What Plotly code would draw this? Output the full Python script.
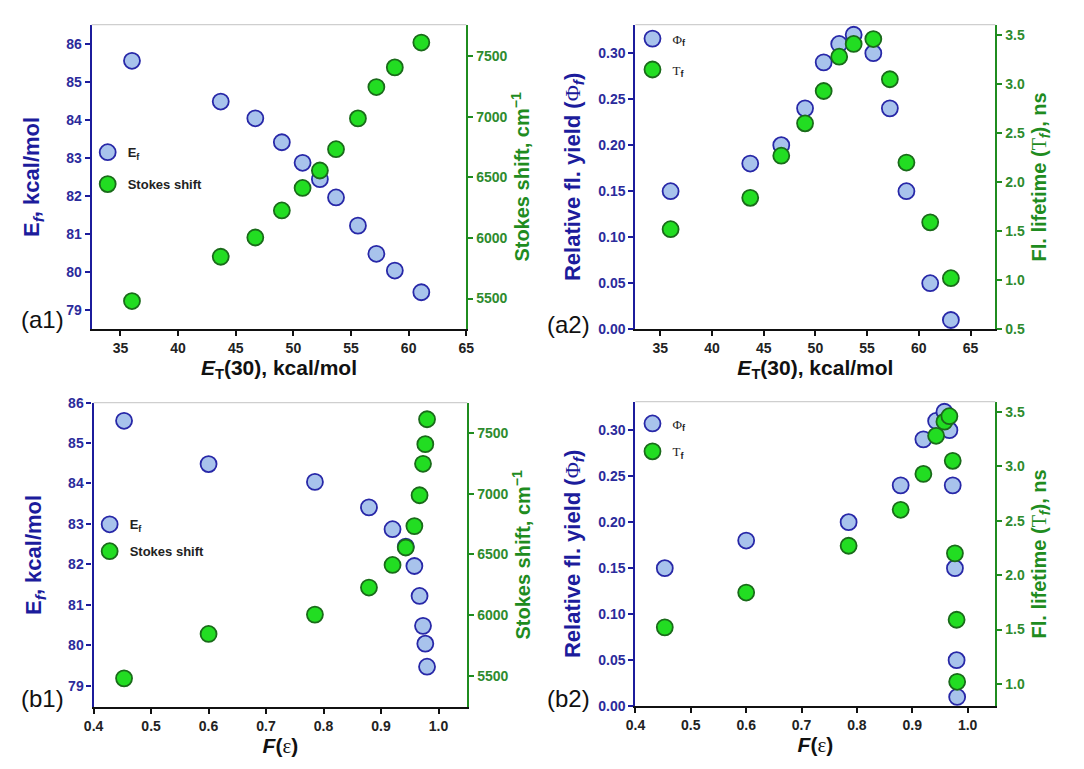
import plotly.graph_objects as go

# ---------------- data ----------------
ET30 = [36.0, 43.7, 46.7, 49.0, 50.8, 52.3, 53.7, 55.6, 57.2, 58.8, 61.1, 63.1]
F_eps = [0.453, 0.600, 0.785, 0.879, 0.920, 0.943, 0.958, 0.967, 0.973, 0.977, 0.980, 0.981]
E_f = [85.55, 84.48, 84.04, 83.41, 82.87, 82.44, 81.96, 81.22, 80.48, 80.04, 79.47]
stokes = [5479, 5845, 6004, 6227, 6413, 6557, 6733, 6987, 7246, 7408, 7613]
phi_f = [0.15, 0.18, 0.20, 0.24, 0.29, 0.31, 0.32, 0.30, 0.24, 0.15, 0.05, 0.01]
tau_f = [1.52, 1.84, 2.27, 2.60, 2.93, 3.28, 3.41, 3.46, 3.05, 2.20, 1.59, 1.02]

et_ticks = [35, 40, 45, 50, 55, 60, 65]
f_ticks = [0.4, 0.5, 0.6, 0.7, 0.8, 0.9, 1.0]
ef_ticks = [79, 80, 81, 82, 83, 84, 85, 86]
stokes_ticks = [5500, 6000, 6500, 7000, 7500]
phi_ticks = [0.00, 0.05, 0.10, 0.15, 0.20, 0.25, 0.30]
tau_ticks_a = [0.5, 1.0, 1.5, 2.0, 2.5, 3.0, 3.5]
tau_ticks_b = [1.0, 1.5, 2.0, 2.5, 3.0, 3.5]

# ---------------- style ----------------
W, H = 1084, 769
FONT = "Arial, Liberation Sans, sans-serif"
BLUE_LINE = "#1c1c9c"
BLUE_TXT = "#2b2b9b"
GREEN_LINE = "#1f8c1f"
GREEN_TXT = "#2e8b2e"
BLUE_FILL = "#a8c3ec"
BLUE_EDGE = "#2828a8"
GREEN_FILL = "#22dd22"
GREEN_EDGE = "#1a6b1a"
MS = 16


def px_x(p):
    return p / W


def px_y(p):
    return 1 - p / H


blue_marker = dict(size=MS, color=BLUE_FILL, line=dict(color=BLUE_EDGE, width=1.8))
green_marker = dict(size=MS, color=GREEN_FILL, line=dict(color=GREEN_EDGE, width=1.8))

SERIF = "font-family:'Liberation Serif',Times,serif;font-weight:normal"
PHI = f"<span style=\"{SERIF}\">Φ</span>"
TAU = f"<span style=\"{SERIF}\">T</span>"

fig = go.Figure()

# panel a1
fig.add_trace(go.Scatter(x=ET30[:11], y=E_f, mode="markers", marker=blue_marker,
                         name="E<sub>f</sub>", xaxis="x", yaxis="y",
                         legend="legend", legendgroup="a1"))
fig.add_trace(go.Scatter(x=ET30[:11], y=stokes, mode="markers", marker=green_marker,
                         name="Stokes shift", xaxis="x", yaxis="y2",
                         legend="legend", legendgroup="a1b"))
# panel a2
fig.add_trace(go.Scatter(x=ET30, y=phi_f, mode="markers", marker=blue_marker,
                         name=PHI + "<sub>f</sub>", xaxis="x2", yaxis="y3",
                         legend="legend2", legendgroup="a2"))
fig.add_trace(go.Scatter(x=ET30, y=tau_f, mode="markers", marker=green_marker,
                         name=TAU + "<sub>f</sub>", xaxis="x2", yaxis="y4",
                         legend="legend2", legendgroup="a2b"))
# panel b1
fig.add_trace(go.Scatter(x=F_eps[:11], y=E_f, mode="markers", marker=blue_marker,
                         name="E<sub>f</sub>", xaxis="x3", yaxis="y5",
                         legend="legend3", legendgroup="b1"))
fig.add_trace(go.Scatter(x=F_eps[:11], y=stokes, mode="markers", marker=green_marker,
                         name="Stokes shift", xaxis="x3", yaxis="y6",
                         legend="legend3", legendgroup="b1b"))
# panel b2
fig.add_trace(go.Scatter(x=F_eps, y=phi_f, mode="markers", marker=blue_marker,
                         name=PHI + "<sub>f</sub>", xaxis="x4", yaxis="y7",
                         legend="legend4", legendgroup="b2"))
fig.add_trace(go.Scatter(x=F_eps, y=tau_f, mode="markers", marker=green_marker,
                         name=TAU + "<sub>f</sub>", xaxis="x4", yaxis="y8",
                         legend="legend4", legendgroup="b2b"))

tick_font_x = dict(family=FONT, size=14, color="#222222", weight="bold")
tick_font_b = dict(family=FONT, size=14, color=BLUE_TXT, weight="bold")
tick_font_g = dict(family=FONT, size=14, color=GREEN_TXT, weight="bold")


def xaxis(domain, rng, ticks, fmt, title, anchor):
    return dict(domain=domain, range=rng, tickvals=ticks, tickformat=fmt,
                showline=True, linecolor="#111111", linewidth=2.2,
                ticks="outside", ticklen=5, tickwidth=1.8, tickcolor="#111111",
                tickfont=tick_font_x, showgrid=False, zeroline=False, anchor=anchor,
                title=dict(text=title, font=dict(family=FONT, size=21, color="#111111",
                                                 weight="bold"), standoff=5))


def yleft(domain, rng, ticks, fmt, title, anchor, standoff):
    return dict(domain=domain, range=rng, tickvals=ticks, tickformat=fmt,
                showline=True, linecolor=BLUE_LINE, linewidth=2.2,
                ticks="outside", ticklen=5, tickwidth=1.8, tickcolor=BLUE_LINE,
                tickfont=tick_font_b, showgrid=False, zeroline=False, anchor=anchor,
                title=dict(text=title, font=dict(family=FONT, size=22, color=BLUE_LINE,
                                                 weight="bold"), standoff=standoff))


def yright(rng, ticks, fmt, title, anchor, overlay, standoff):
    return dict(range=rng, tickvals=ticks, tickformat=fmt, side="right",
                overlaying=overlay, anchor=anchor,
                showline=True, linecolor=GREEN_LINE, linewidth=2.2,
                ticks="outside", ticklen=5, tickwidth=1.8, tickcolor=GREEN_LINE,
                tickfont=tick_font_g, showgrid=False, zeroline=False,
                title=dict(text=title, font=dict(family=FONT, size=20, color=GREEN_LINE,
                                                 weight="bold"), standoff=standoff))


ET_TITLE = "<i>E</i><sub>T</sub>(30), kcal/mol"
F_TITLE = "<i>F</i>(<span style=\"" + SERIF + "\">ε</span>)"
EF_TITLE = "E<sub><i>f</i></sub>, kcal/mol"
ST_TITLE = "Stokes shift, cm<sup>−1</sup>"
PHI_TITLE = "Relative fl. yield (" + PHI + "<sub><i>f</i></sub>)"
TAU_TITLE = "Fl. lifetime (" + TAU + "<sub><i>f</i></sub>), ns"

dom_a1x = [px_x(83), px_x(464)]
dom_a2x = [px_x(636), px_x(1002)]
dom_b1x = [px_x(85), px_x(465)]
dom_b2x = [px_x(636), px_x(1002)]
dom_ay = [px_y(328), px_y(17)]
dom_b1y = [px_y(714), px_y(403)]
dom_b2y = [px_y(713), px_y(402)]


def legend_cfg(xp, yp, gap):
    return dict(x=px_x(xp), y=px_y(yp), xanchor="left", yanchor="top",
                bgcolor="rgba(0,0,0,0)", borderwidth=0, tracegroupgap=gap,
                font=dict(family=FONT, size=13, color="#222222", weight="bold"),
                itemsizing="trace")


fig.update_layout(
    width=W, height=H, autosize=False,
    margin=dict(l=0, r=0, t=0, b=0),
    paper_bgcolor="white", plot_bgcolor="white",
    font=dict(family=FONT),
    xaxis=xaxis(dom_a1x, [32.5, 65], et_ticks, "d", ET_TITLE, "y"),
    yaxis=yleft(dom_ay, [78.5, 86.5], ef_ticks, "d", EF_TITLE, "x", 20),
    yaxis2=yright([5247, 7761], stokes_ticks, "d", ST_TITLE, "x", "y", 8),
    xaxis2=xaxis(dom_a2x, [32.6, 67.4], et_ticks, "d", ET_TITLE, "y3"),
    yaxis3=yleft(dom_ay, [0, 0.331], phi_ticks, ".2f", PHI_TITLE, "x2", 12),
    yaxis4=yright([0.5, 3.607], tau_ticks_a, ".1f", TAU_TITLE, "x2", "y3", 8),
    xaxis3=xaxis(dom_b1x, [0.4, 1.05], f_ticks, ".1f", F_TITLE, "y5"),
    yaxis5=yleft(dom_b1y, [78.47, 86.0], ef_ticks, "d", EF_TITLE, "x3", 20),
    yaxis6=yright([5242, 7750], stokes_ticks, "d", ST_TITLE, "x3", "y5", 8),
    xaxis4=xaxis(dom_b2x, [0.4, 1.05], f_ticks, ".1f", F_TITLE, "y7"),
    yaxis7=yleft(dom_b2y, [0, 0.331], phi_ticks, ".2f", PHI_TITLE, "x4", 12),
    yaxis8=yright([0.796, 3.594], tau_ticks_b, ".1f", TAU_TITLE, "x4", "y7", 8),
    legend=legend_cfg(79, 132, 12),
    legend2=legend_cfg(633, 16, 11),
    legend3=legend_cfg(81, 512, 7),
    legend4=legend_cfg(633, 409, 8),
    showlegend=True,
)

# light grey top frame line of each panel
for xr, yr in [("x", "y"), ("x2", "y3"), ("x3", "y5"), ("x4", "y7")]:
    fig.add_shape(type="line", xref=xr + " domain", yref=yr + " domain",
                  x0=0, x1=1, y0=1, y1=1, line=dict(color="#cfcfcf", width=1.2))

# panel labels
for txt, xp, yp in [("(a1)", 33, 318), ("(a2)", 568, 323), ("(b1)", 33, 705), ("(b2)", 568, 705)]:
    fig.add_annotation(text=txt, x=px_x(xp), y=px_y(yp), xref="paper", yref="paper",
                       showarrow=False, xanchor="center", yanchor="middle",
                       font=dict(family=FONT, size=24, color="#111111"))

fig.write_html("out.html")
